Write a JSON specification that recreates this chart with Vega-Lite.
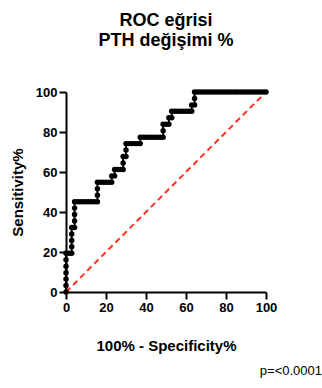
{
  "$schema": "https://vega.github.io/schema/vega-lite/v6.json",
  "width": 200,
  "height": 200,
  "autosize": "none",
  "padding": {"left": 66, "top": 92, "right": 56, "bottom": 96},
  "background": "white",
  "title": {
    "text": ["ROC eğrisi", "PTH değişimi %"],
    "anchor": "middle",
    "frame": "group",
    "font": "Liberation Sans",
    "fontSize": 18,
    "fontWeight": "bold",
    "lineHeight": 20,
    "color": "black",
    "offset": 36
  },
  "config": {
    "view": {"stroke": null},
    "font": "Liberation Sans",
    "axis": {
      "domainColor": "black",
      "domainWidth": 2,
      "tickColor": "black",
      "tickWidth": 2,
      "tickSize": 7,
      "grid": false,
      "labelOverlap": false,
      "labelFont": "Liberation Sans",
      "labelFontSize": 13,
      "labelFontWeight": "bold",
      "labelColor": "black",
      "labelPadding": 2,
      "titleFont": "Liberation Sans",
      "titleFontSize": 15,
      "titleFontWeight": "bold",
      "titleColor": "black"
    }
  },
  "datasets": {
    "roc": [
      {"n":1,"fpr":0,"tpr":0},{"n":2,"fpr":0,"tpr":3.23},{"n":3,"fpr":0,"tpr":6.45},{"n":4,"fpr":0,"tpr":9.68},
      {"n":5,"fpr":0,"tpr":12.9},{"n":6,"fpr":0,"tpr":16.13},{"n":7,"fpr":0,"tpr":19.35},{"n":8,"fpr":1.43,"tpr":19.35},
      {"n":9,"fpr":2.86,"tpr":19.35},{"n":10,"fpr":2.86,"tpr":22.58},{"n":11,"fpr":2.86,"tpr":25.81},{"n":12,"fpr":2.86,"tpr":29.03},
      {"n":13,"fpr":2.86,"tpr":32.26},{"n":14,"fpr":4.29,"tpr":32.26},{"n":15,"fpr":4.29,"tpr":35.48},{"n":16,"fpr":4.29,"tpr":38.71},
      {"n":17,"fpr":4.29,"tpr":41.94},{"n":18,"fpr":4.29,"tpr":45.16},{"n":19,"fpr":5.71,"tpr":45.16},{"n":20,"fpr":7.14,"tpr":45.16},
      {"n":21,"fpr":8.57,"tpr":45.16},{"n":22,"fpr":10,"tpr":45.16},{"n":23,"fpr":11.43,"tpr":45.16},{"n":24,"fpr":12.86,"tpr":45.16},
      {"n":25,"fpr":14.29,"tpr":45.16},{"n":26,"fpr":15.71,"tpr":45.16},{"n":27,"fpr":15.71,"tpr":48.39},{"n":28,"fpr":15.71,"tpr":51.61},
      {"n":29,"fpr":15.71,"tpr":54.84},{"n":30,"fpr":17.14,"tpr":54.84},{"n":31,"fpr":18.57,"tpr":54.84},{"n":32,"fpr":20,"tpr":54.84},
      {"n":33,"fpr":21.43,"tpr":54.84},{"n":34,"fpr":22.86,"tpr":54.84},{"n":35,"fpr":22.86,"tpr":58.06},{"n":36,"fpr":24.29,"tpr":58.06},
      {"n":37,"fpr":24.29,"tpr":61.29},{"n":38,"fpr":25.71,"tpr":61.29},{"n":39,"fpr":27.14,"tpr":61.29},{"n":40,"fpr":28.57,"tpr":61.29},
      {"n":41,"fpr":28.57,"tpr":64.52},{"n":42,"fpr":28.57,"tpr":67.74},{"n":43,"fpr":30,"tpr":67.74},{"n":44,"fpr":30,"tpr":70.97},
      {"n":45,"fpr":30,"tpr":74.19},{"n":46,"fpr":31.43,"tpr":74.19},{"n":47,"fpr":32.86,"tpr":74.19},{"n":48,"fpr":34.29,"tpr":74.19},
      {"n":49,"fpr":35.71,"tpr":74.19},{"n":50,"fpr":37.14,"tpr":74.19},{"n":51,"fpr":37.14,"tpr":77.42},{"n":52,"fpr":38.57,"tpr":77.42},
      {"n":53,"fpr":40,"tpr":77.42},{"n":54,"fpr":41.43,"tpr":77.42},{"n":55,"fpr":42.86,"tpr":77.42},{"n":56,"fpr":44.29,"tpr":77.42},
      {"n":57,"fpr":45.71,"tpr":77.42},{"n":58,"fpr":47.14,"tpr":77.42},{"n":59,"fpr":48.57,"tpr":77.42},{"n":60,"fpr":48.57,"tpr":80.65},
      {"n":61,"fpr":48.57,"tpr":83.87},{"n":62,"fpr":50,"tpr":83.87},{"n":63,"fpr":51.43,"tpr":83.87},{"n":64,"fpr":51.43,"tpr":87.1},
      {"n":65,"fpr":52.86,"tpr":87.1},{"n":66,"fpr":52.86,"tpr":90.32},{"n":67,"fpr":54.29,"tpr":90.32},{"n":68,"fpr":55.71,"tpr":90.32},
      {"n":69,"fpr":57.14,"tpr":90.32},{"n":70,"fpr":58.57,"tpr":90.32},{"n":71,"fpr":60,"tpr":90.32},{"n":72,"fpr":61.43,"tpr":90.32},
      {"n":73,"fpr":62.86,"tpr":90.32},{"n":74,"fpr":62.86,"tpr":93.55},{"n":75,"fpr":64.29,"tpr":93.55},{"n":76,"fpr":64.29,"tpr":96.77},
      {"n":77,"fpr":64.29,"tpr":100},{"n":78,"fpr":65.71,"tpr":100},{"n":79,"fpr":67.14,"tpr":100},{"n":80,"fpr":68.57,"tpr":100},
      {"n":81,"fpr":70,"tpr":100},{"n":82,"fpr":71.43,"tpr":100},{"n":83,"fpr":72.86,"tpr":100},{"n":84,"fpr":74.29,"tpr":100},
      {"n":85,"fpr":75.71,"tpr":100},{"n":86,"fpr":77.14,"tpr":100},{"n":87,"fpr":78.57,"tpr":100},{"n":88,"fpr":80,"tpr":100},
      {"n":89,"fpr":81.43,"tpr":100},{"n":90,"fpr":82.86,"tpr":100},{"n":91,"fpr":84.29,"tpr":100},{"n":92,"fpr":85.71,"tpr":100},
      {"n":93,"fpr":87.14,"tpr":100},{"n":94,"fpr":88.57,"tpr":100},{"n":95,"fpr":90,"tpr":100},{"n":96,"fpr":91.43,"tpr":100},
      {"n":97,"fpr":92.86,"tpr":100},{"n":98,"fpr":94.29,"tpr":100},{"n":99,"fpr":95.71,"tpr":100},{"n":100,"fpr":97.14,"tpr":100},
      {"n":101,"fpr":98.57,"tpr":100},{"n":102,"fpr":100,"tpr":100}
    ],
    "diag": [{"fpr":0,"tpr":0},{"fpr":100,"tpr":100}],
    "note": [{"label":"p=<0.0001"}]
  },
  "layer": [
    {
      "data": {"name": "diag"},
      "mark": {"type": "line", "color": "#ff3322", "strokeWidth": 2, "strokeDash": [6, 4]},
      "encoding": {
        "x": {"field": "fpr", "type": "quantitative", "scale": {"domain": [0, 100], "nice": false, "zero": false},
          "axis": {"values": [0, 20, 40, 60, 80, 100], "labelOverlap": false, "labelFlush": false, "title": "100% - Specificity%", "titlePadding": 24}},
        "y": {"field": "tpr", "type": "quantitative", "scale": {"domain": [0, 100], "nice": false, "zero": false},
          "axis": {"values": [0, 20, 40, 60, 80, 100], "labelOverlap": false, "labelFlush": false, "title": "Sensitivity%", "titlePadding": 10}}
      }
    },
    {
      "data": {"name": "roc"},
      "mark": {"type": "line", "color": "black", "strokeWidth": 2},
      "encoding": {
        "x": {"field": "fpr", "type": "quantitative", "scale": {"domain": [0, 100], "nice": false, "zero": false},
          "axis": {"values": [0, 20, 40, 60, 80, 100], "labelOverlap": false, "labelFlush": false, "title": "100% - Specificity%", "titlePadding": 24}},
        "y": {"field": "tpr", "type": "quantitative", "scale": {"domain": [0, 100], "nice": false, "zero": false},
          "axis": {"values": [0, 20, 40, 60, 80, 100], "labelOverlap": false, "labelFlush": false, "title": "Sensitivity%", "titlePadding": 10}},
        "order": {"field": "n", "type": "quantitative"}
      }
    },
    {
      "data": {"name": "roc"},
      "mark": {"type": "circle", "color": "black", "opacity": 1, "size": 30},
      "encoding": {
        "x": {"field": "fpr", "type": "quantitative", "scale": {"domain": [0, 100], "nice": false, "zero": false},
          "axis": {"values": [0, 20, 40, 60, 80, 100], "labelOverlap": false, "labelFlush": false, "title": "100% - Specificity%", "titlePadding": 24}},
        "y": {"field": "tpr", "type": "quantitative", "scale": {"domain": [0, 100], "nice": false, "zero": false},
          "axis": {"values": [0, 20, 40, 60, 80, 100], "labelOverlap": false, "labelFlush": false, "title": "Sensitivity%", "titlePadding": 10}}
      }
    },
    {
      "data": {"name": "note"},
      "mark": {"type": "text", "font": "Liberation Sans", "fontSize": 13, "color": "black", "align": "right", "baseline": "alphabetic", "clip": false},
      "encoding": {
        "x": {"datum": 128, "type": "quantitative", "scale": {"domain": [0, 100], "nice": false, "zero": false},
          "axis": {"values": [0, 20, 40, 60, 80, 100], "labelOverlap": false, "labelFlush": false, "title": "100% - Specificity%", "titlePadding": 24}},
        "y": {"datum": -41.5, "type": "quantitative", "scale": {"domain": [0, 100], "nice": false, "zero": false},
          "axis": {"values": [0, 20, 40, 60, 80, 100], "labelOverlap": false, "labelFlush": false, "title": "Sensitivity%", "titlePadding": 10}},
        "text": {"field": "label"}
      }
    }
  ]
}
